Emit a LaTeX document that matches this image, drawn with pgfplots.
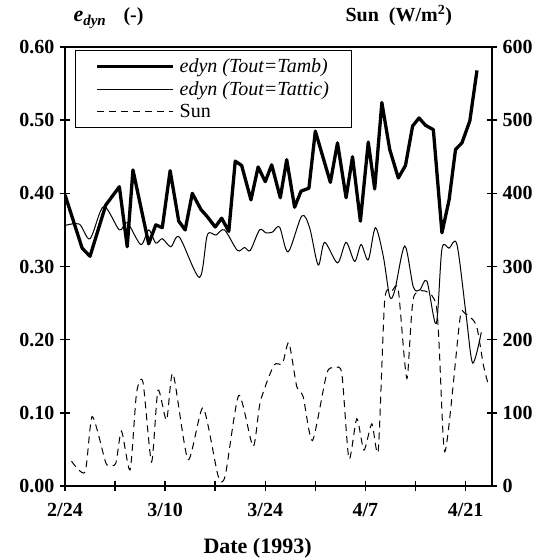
\documentclass[border=0pt]{standalone}
\usepackage{pgfplots}
\pgfplotsset{compat=1.18}
\usepackage{fontspec}
\setmainfont{Liberation Serif}

\begin{document}
\begin{tikzpicture}[x=1pt,y=1pt]
\path[use as bounding box] (-65,-74) rectangle (471,486);
\begin{axis}[
  at={(0,0)}, anchor=south west,
  scale only axis, width=427pt, height=439pt,
  xmin=0, xmax=59.7, ymin=0, ymax=0.6,
  xtick={0,7,14,21,28,35,42,49,56},
  xticklabels={2/24,,3/10,,3/24,,4/7,,4/21},
  ytick={0,0.1,0.2,0.3,0.4,0.5,0.6},
  /pgf/number format/fixed, /pgf/number format/fixed zerofill, /pgf/number format/precision=2,
  /pgf/number format/assume math mode=true,
  tick label style={font=\bfseries\fontsize{20}{20}\selectfont},
  xticklabel style={yshift=-9pt},
  yticklabel style={xshift=-2pt},
  xtick pos=bottom, ytick pos=left,
  tick align=center, major tick length=10pt,
  every tick/.style={black, line width=1.5pt},
  axis line style={line width=1.5pt},
  xlabel={Date (1993)},
  xlabel style={font=\bfseries\fontsize{22}{22}\selectfont, at={(axis description cs:0.451,-0.141)}, anchor=center},
  legend style={at={(0.0234,0.993)}, anchor=north west, draw=black, line width=0.8pt,
    font=\fontsize{20}{22}\selectfont, inner xsep=20pt, inner ysep=6pt, row sep=3.5pt,
    /tikz/every odd column/.style={column sep=3pt}},
  legend cell align=left,
  legend image code/.code={\draw[#1] (0pt,0pt) -- (76pt,0pt);},
]
\addplot[black, line width=3.3pt, line join=round] coordinates {
(0,0.398) (2.4,0.325) (3.5,0.314) (5.7,0.384) (7.6,0.409) (8.7,0.327) (9.5,0.432)
(11.7,0.331) (12.7,0.357) (13.6,0.353) (14.7,0.431) (15.9,0.362) (16.8,0.350)
(17.8,0.400) (19.0,0.378) (19.9,0.368) (21.0,0.354) (21.9,0.366) (22.9,0.348)
(23.8,0.444) (24.7,0.438) (26.0,0.391) (27.0,0.436) (28.0,0.416) (28.9,0.439)
(30.1,0.394) (31.0,0.446) (32.1,0.381) (33.0,0.403) (34.1,0.407) (35.0,0.485)
(37.1,0.415) (38.1,0.469) (39.3,0.394) (40.2,0.450) (41.3,0.362) (42.4,0.470)
(43.3,0.406) (44.3,0.524) (45.4,0.460) (46.6,0.421) (47.6,0.438) (48.6,0.492)
(49.5,0.503) (50.4,0.493) (51.5,0.487) (52.7,0.346) (53.7,0.391) (54.6,0.460)
(55.5,0.469) (56.6,0.499) (57.6,0.568)
};
\addlegendentry{\textit{edyn (Tout=Tamb)}}
\addplot[black, line width=1pt, smooth, tension=0.5] coordinates {
(0,0.356) (2,0.358) (3.5,0.338) (5.4,0.382) (7.6,0.350) (8.7,0.360) (10.6,0.330)
(11.7,0.350) (12.7,0.332) (13.6,0.338) (14.8,0.327) (16.0,0.340) (18.8,0.285)
(19.9,0.343) (21.1,0.343) (22.3,0.350) (24.1,0.322) (25.1,0.326) (25.9,0.322)
(27.2,0.350) (28.1,0.346) (29.0,0.347) (30.0,0.354) (31.2,0.320) (33.1,0.369)
(34.2,0.353) (35.4,0.302) (36.3,0.333) (38.1,0.305) (39.3,0.333) (40.5,0.307)
(41.4,0.330) (42.4,0.309) (43.4,0.353) (44.5,0.314) (45.4,0.259) (46.1,0.267)
(47.5,0.328) (48.7,0.272) (49.6,0.268) (50.6,0.280) (51.9,0.222) (52.7,0.324)
(53.7,0.325) (54.8,0.330) (56.1,0.232) (57.0,0.168) (58.2,0.210)
};
\addlegendentry{\textit{edyn (Tout=Tattic)}}
\addlegendimage{black, line width=1pt, dash pattern=on 7pt off 5pt}
\addlegendentry{Sun}
\end{axis}
\begin{axis}[
  at={(0,0)}, anchor=south west,
  scale only axis, width=427pt, height=439pt,
  xmin=0, xmax=59.7, ymin=0, ymax=600,
  axis x line=none, axis y line*=right,
  ytick={0,100,200,300,400,500,600},
  /pgf/number format/assume math mode=true,
  tick label style={font=\bfseries\fontsize{20}{20}\selectfont},
  yticklabel style={xshift=2pt},
  tick align=center, major tick length=10pt,
  every tick/.style={black, line width=1.5pt},
  axis line style={line width=1.5pt},
]
\addplot[black, line width=1pt, dash pattern=on 7pt off 5pt, smooth, tension=0.4] coordinates {
(0.9,34) (2.8,19) (3.8,95) (5.6,35) (6.05,28) (7.1,31) (7.9,75) (9.1,22)
(10.0,127) (10.9,142) (12.1,33) (13.0,131) (14.2,90) (15.1,154) (17.2,36)
(19.3,107) (21.4,14) (22.4,14) (24.3,124) (26.3,54) (27.3,115) (29.2,165)
(30.4,167) (31.3,196) (32.4,136) (33.3,122) (34.6,62) (36.6,154) (37.7,161)
(38.7,154) (39.7,37) (40.8,92) (41.8,49) (42.9,85) (43.8,49) (44.7,254)
(45.7,266) (46.6,268) (47.8,147) (48.8,260) (51.9,247) (53.1,47) (55.2,227)
(55.9,236) (57.5,220) (58.5,165) (59.2,138)
};
\end{axis}
\node[anchor=base west, font=\bfseries\itshape\fontsize{22}{22}\selectfont] at (5,464)
  {e\raisebox{-0.35ex}{\fontsize{15}{15}\selectfont dyn}};
\node[anchor=base west, font=\bfseries\fontsize{20}{20}\selectfont] at (55,464) {(-)};
\node[anchor=base west, font=\bfseries\fontsize{20}{20}\selectfont] at (277,464)
  {Sun\ \ (W/m\textsuperscript{2})};
\end{tikzpicture}
\end{document}
